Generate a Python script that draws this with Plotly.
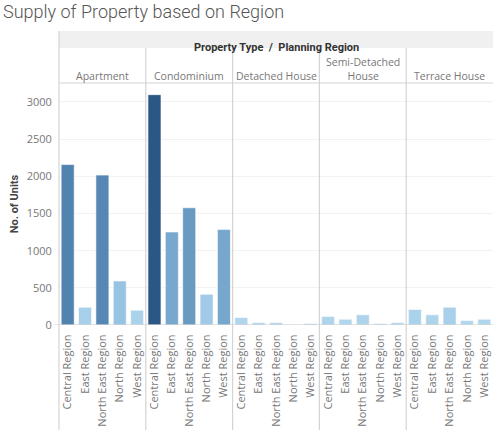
import plotly.graph_objects as go
from plotly.subplots import make_subplots

property_types = ["Apartment", "Condominium", "Detached House", "Semi-Detached<br>House", "Terrace House"]
regions = ["Central Region", "East Region", "North East Region", "North Region", "West Region"]
apartment = [2158, 239, 2016, 593, 199]
condominium = [3098, 1251, 1577, 413, 1286]
detached = [100, 33, 33, 4, 20]
semi_detached = [114, 78, 137, 20, 33]
terrace = [208, 137, 239, 60, 78]
series = [apartment, condominium, detached, semi_detached, terrace]

all_vals = [v for s in series for v in s]
vmin, vmax = min(all_vals), max(all_vals)
scale = [[0, "#b4d9ef"], [0.25, "#8fbddf"], [0.5, "#6a9bc3"], [0.75, "#4a7cab"], [1, "#2a5783"]]

fig = make_subplots(rows=1, cols=5, shared_yaxes=True, horizontal_spacing=0)
for i, vals in enumerate(series):
    fig.add_trace(go.Bar(
        x=regions, y=vals,
        marker=dict(color=vals, colorscale=scale, cmin=vmin, cmax=vmax,
                    line=dict(color="rgba(255,255,255,0.6)", width=1)),
        showlegend=False, hoverinfo="x+y"), row=1, col=i + 1)
    fig.update_xaxes(showgrid=False, zeroline=False, showline=False, automargin=False,
                     tickangle=-90, tickfont=dict(size=11, color="#777", family="Open Sans"),
                     ticks="outside", ticklen=4, tickcolor="rgba(0,0,0,0)",
                     row=1, col=i + 1)

fig.update_yaxes(range=[0, 3255], tickvals=[0, 500, 1000, 1500, 2000, 2500, 3000], automargin=False,
                 showgrid=True, gridcolor="#f2f2f2", gridwidth=1, zeroline=False, showline=False,
                 tickfont=dict(size=11, color="#777", family="Open Sans"),
                 ticks="outside", ticklen=4, tickcolor="rgba(0,0,0,0)")
fig.update_yaxes(title=dict(text="<b>No. of Units</b>", font=dict(size=11, color="#444", family="Roboto"),
                            standoff=5), row=1, col=1)

shapes = []
line_c = "#d4d4d4"
# header band
shapes.append(dict(type="rect", xref="paper", yref="paper", x0=0, x1=1, y0=1.1446, y1=1.2149,
                   fillcolor="#f0f0f0", line=dict(width=0), layer="below"))
# top of plot line
shapes.append(dict(type="line", xref="paper", yref="paper", x0=0, x1=1, y0=1, y1=1,
                   line=dict(color=line_c, width=1)))
# baseline
shapes.append(dict(type="line", xref="paper", yref="y", x0=-0.01, x1=1, y0=0, y1=0,
                   line=dict(color="#c8c8c8", width=1)))
# vertical separators
for k in range(5):
    xk = k * 0.2
    shapes.append(dict(type="line", xref="paper", yref="paper", x0=xk, x1=xk,
                       y0=-0.434, y1=1.2149 if k == 0 else 1.1446,
                       line=dict(color=line_c, width=1.2)))

annotations = [dict(text="<b>Property Type  /  Planning Region</b>", xref="paper", yref="paper",
                    x=0.5, xanchor="center", y=1.18, showarrow=False,
                    font=dict(size=11, color="#333", family="Roboto"))]
for i, name in enumerate(property_types):
    annotations.append(dict(text=name, xref="paper", yref="paper", x=0.1 + 0.2 * i, xanchor="center",
                            y=0.994, yanchor="bottom", showarrow=False, borderpad=0,
                            font=dict(size=10.5, color="#777", family="Open Sans")))

fig.update_layout(
    width=500, height=436,
    margin=dict(l=59, r=7, t=83, b=111, autoexpand=False),
    paper_bgcolor="white", plot_bgcolor="white",
    bargap=0.25,
    title=dict(text="Supply of Property based on Region", x=0.006, xanchor="left", y=0.987, yanchor="top",
               font=dict(size=18, color="#555", family="Roboto", weight=300)),
    shapes=shapes, annotations=annotations,
)
fig.write_html("out.html", config={"displayModeBar": False},
               post_script="document.body.style.margin='0';")
